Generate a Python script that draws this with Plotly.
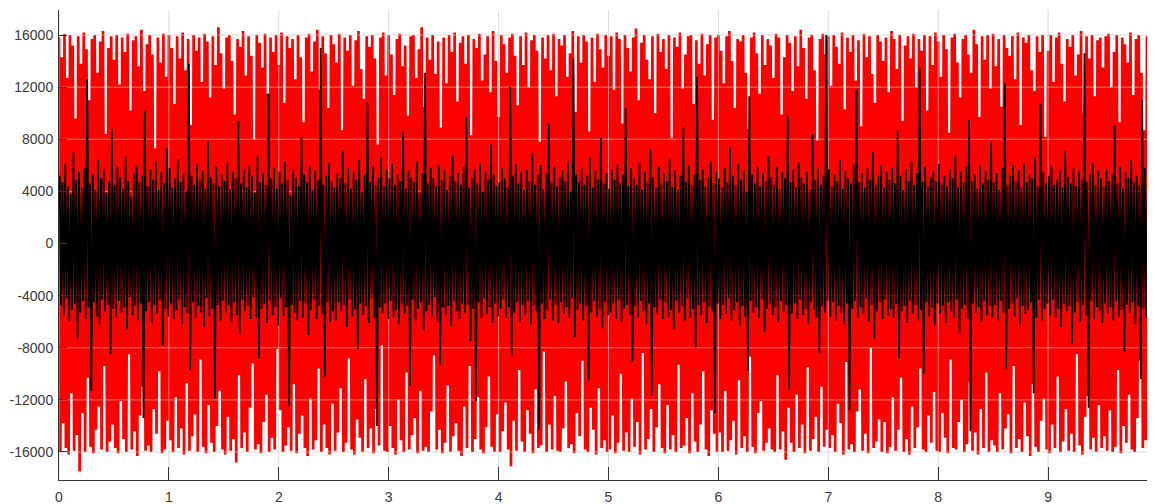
import plotly.graph_objects as go

# Sample rate of the recording (samples per x unit); values in hundreds of units
fs = 80
scale = 100

# Red channel: positive and negative excursions (x100)
red_pos = [
158,143,161,127,160,152,96,159,138,162,149,110,157,160,131,155,163,84,150,159,
141,160,122,158,147,161,102,156,159,136,164,117,153,160,145,73,158,139,161,128,
160,150,107,159,142,162,133,157,91,160,148,158,124,161,155,112,159,137,166,146,
119,158,160,140,99,157,151,163,129,159,144,80,160,154,135,161,115,158,147,160,
137,162,108,159,150,157,126,160,143,93,158,161,132,155,164,118,159,146,104,160,
153,139,161,87,158,148,160,121,156,163,134,111,159,151,160,142,76,158,162,129,
160,145,114,157,161,136,152,98,159,160,127,149,166,105,158,141,160,130,155,89,
158,123,160,147,162,109,154,159,138,160,83,157,150,161,125,145,159,116,163,140,
97,160,153,131,158,161,144,106,159,137,162,120,156,160,148,78,158,142,160,133,
161,113,157,152,160,128,146,163,101,159,139,160,155,86,158,124,161,149,135,160,
144,159,118,162,157,92,160,150,132,158,165,110,154,160,141,126,159,100,161,147,
157,134,160,81,158,151,162,119,145,159,160,107,156,138,161,129,153,160,95,158,
160,148,123,159,163,140,104,157,155,160,131,88,158,162,146,115,160,137,157,152,
127,161,158,99,143,160,154,117,159,136,164,150,111,158,160,133,79,157,161,145,
159,121,160,151,138,162,103,158,147,160,125,156,90,161,143,159,130,108,160,155,
140,158,116,163,157,134,160,94,152,159,142,161,120,157,148,160,102,159,137,162,
155,128,160,149,85,158,161,139,112,157,160,145,131,164,153,97,159,141,160,119,
161,136,157,105,160,150,144,159,126,162,91,158,154,160,133,117,159,147,160,82,
148,160,124,158,162,138,109,157,151,160,129,145,163,100,159,142,160,113,156,158,
135,159,161,120,147,160,93,158,153,139,162,114,157,160,131,87,159,150,161,144,
]
red_neg = [
160,138,157,162,115,159,147,175,130,160,103,156,161,143,125,158,94,160,152,139,
157,161,121,150,160,85,158,144,163,132,110,159,155,160,127,146,98,161,158,136,
151,160,118,157,142,162,107,159,148,131,160,89,156,161,124,153,160,140,113,158,
162,133,159,150,168,101,157,145,160,126,92,158,154,161,137,116,160,149,158,81,
128,160,155,141,159,108,161,146,132,157,163,119,158,151,96,160,139,157,162,123,
159,145,111,160,153,88,158,162,135,149,160,104,157,142,161,127,155,78,159,160,
140,157,162,120,151,160,99,158,147,134,161,113,159,156,160,129,86,158,143,161,
153,109,160,148,138,159,163,125,157,94,160,150,118,158,161,141,102,156,160,131,
160,144,122,158,171,136,159,97,152,160,128,146,161,112,157,155,83,160,139,158,
117,159,160,142,106,157,154,161,130,148,90,158,160,126,143,162,111,157,151,160,
158,132,161,153,100,159,145,160,119,156,137,162,84,158,150,127,160,141,108,157,
161,124,158,147,160,93,157,155,134,161,115,152,160,139,98,158,163,128,146,160,
145,160,113,159,151,136,162,105,157,148,160,87,156,161,130,121,159,153,142,158,
160,101,158,144,166,126,153,160,116,157,139,161,95,159,150,133,160,110,156,143,
157,147,160,123,138,162,91,158,154,160,129,112,159,146,161,80,157,152,135,160,
137,161,156,118,159,143,103,160,150,162,125,157,141,96,158,160,132,153,114,159,
160,130,149,161,89,157,158,137,120,160,154,106,159,145,162,127,157,99,160,151,
155,160,115,158,142,131,161,94,157,150,160,122,148,163,108,156,160,136,119,158,
161,139,157,102,160,152,127,159,146,160,85,155,162,133,117,158,149,160,124,157,
148,159,128,160,156,97,161,140,153,116,158,160,134,90,157,151,161,121,143,160,
]

# Black channel: positive and negative excursions (x100)
black_pos = [
52,47,61,44,38,70,49,55,43,58,126,46,53,41,64,50,57,39,48,88,
45,59,51,42,67,48,36,54,60,47,52,102,44,57,49,63,41,55,46,73,
58,43,50,65,47,54,40,138,52,45,61,49,56,42,78,51,46,59,44,53,
48,62,41,55,50,94,46,57,43,60,52,39,68,47,54,45,115,50,58,42,
55,46,63,49,37,57,51,44,82,53,47,60,41,56,49,150,45,52,62,48,
43,54,50,71,46,58,42,55,49,64,40,53,108,47,59,45,51,66,44,57,
50,61,45,53,48,86,42,56,51,47,63,39,54,131,46,58,50,44,60,49,
56,41,52,67,48,54,45,59,97,43,51,57,46,62,40,55,49,76,53,44,
47,58,50,43,120,52,61,46,55,41,57,48,69,45,53,60,42,54,92,47,
59,44,51,56,48,63,40,142,53,47,58,45,52,66,43,56,49,81,46,54,
42,57,49,61,46,53,104,44,58,50,45,62,41,55,48,72,51,43,59,46,
54,48,65,43,56,41,52,89,47,60,45,53,128,49,57,44,51,63,46,55,
50,43,58,47,74,52,45,61,49,56,40,113,53,46,59,44,54,48,67,51,
45,59,42,55,50,98,47,57,43,62,51,46,55,41,84,49,58,45,52,160,
57,44,53,48,64,42,56,50,46,61,118,47,54,43,58,49,70,45,52,60,
43,55,49,58,46,87,52,41,57,48,63,45,54,135,47,59,44,51,56,48,
61,46,52,44,57,50,68,43,55,47,59,95,48,53,42,60,46,56,49,78,
47,54,41,58,123,45,52,60,48,56,43,61,47,53,50,66,44,107,55,46,
52,60,45,49,57,43,71,51,46,58,44,55,49,146,47,53,62,45,56,50,
44,57,48,53,91,46,59,42,55,50,64,47,52,45,110,58,43,54,49,61,
]
black_neg = [
48,55,42,60,51,46,73,53,44,58,49,113,45,56,62,43,52,47,85,50,
57,44,53,49,66,41,55,48,59,46,134,52,45,61,47,54,43,78,50,56,
46,58,51,43,62,49,54,97,45,57,48,53,64,42,56,50,119,47,59,44,
53,47,60,45,55,69,43,52,48,58,41,57,88,50,46,61,44,55,49,63,
42,56,49,125,47,53,59,44,57,46,70,51,43,58,48,54,102,45,60,52,
59,45,52,47,64,43,56,50,81,46,55,48,61,42,57,140,49,53,46,58,
44,57,51,62,46,54,48,109,43,59,50,45,67,52,47,56,41,60,93,49,
55,48,63,44,52,58,46,53,47,75,50,121,45,57,42,54,49,61,46,56,
50,43,57,49,86,53,45,60,47,55,44,62,48,52,143,46,58,51,43,59,
47,61,45,54,49,57,42,72,51,46,59,48,105,53,44,56,50,65,45,55,
53,46,58,43,60,50,47,55,91,48,57,44,52,62,46,117,49,54,43,58,
45,56,51,66,44,53,48,59,42,57,50,80,47,55,45,61,49,52,130,46,
58,47,54,42,59,51,45,63,48,56,98,44,53,49,57,43,68,50,46,55,
49,60,44,52,47,112,54,46,58,43,55,50,62,45,51,57,84,48,53,44,
56,45,59,48,53,62,46,128,50,44,57,49,54,42,60,47,73,52,45,58,
43,55,50,57,46,88,52,48,61,44,54,47,59,51,100,45,56,49,63,46,
54,48,61,45,52,57,43,69,50,47,58,144,46,53,49,60,44,55,48,57,
47,59,44,53,96,50,46,56,42,62,48,54,51,45,115,57,43,59,50,46,
55,43,57,50,64,46,52,48,77,53,45,60,47,55,126,44,58,49,52,61,
46,54,49,59,44,56,51,83,47,53,45,62,48,104,50,57,43,55,46,58,
]

x_ticks = [0, 1, 2, 3, 4, 5, 6, 7, 8, 9, 10]
y_ticks = [-16000, -12000, -8000, -4000, 0, 4000, 8000, 12000, 16000]
x_range = [0, 9.973]
y_range = [-18150, 17920]


def interleave(pos, neg):
    n = min(len(pos), len(neg))
    out = []
    for i in range(n):
        out.append(pos[i] * scale)
        out.append(-neg[i] * scale)
    return out


red_y = interleave(red_pos, red_neg)
black_y = interleave(black_pos, black_neg)
red_x = [i / fs for i in range(len(red_y))]
black_x = [(i + 0.5) / fs for i in range(len(black_y))]

# grid drawn between the two channels
gx, gy = [], []
for v in y_ticks:
    gx += [x_ticks[0], x_ticks[-1], None]
    gy += [v, v, None]
for v in x_ticks:
    gx += [v, v, None]
    gy += [y_range[0], y_range[1], None]

fig = go.Figure()
fig.add_trace(go.Scatter(x=red_x, y=red_y, mode="lines",
                         line=dict(color="#ff0000", width=2.7),
                         hoverinfo="skip", showlegend=False))
fig.add_trace(go.Scatter(x=gx, y=gy, mode="lines",
                         line=dict(color="rgba(200,200,200,0.65)", width=1),
                         hoverinfo="skip", showlegend=False))
fig.add_trace(go.Scatter(x=black_x, y=black_y, mode="lines",
                         line=dict(color="#000000", width=1.8),
                         hoverinfo="skip", showlegend=False))

tick_font = dict(family="Liberation Sans, Arial, sans-serif", size=14, color="#3a3a3a")

# the page body adds an 8px offset, so the figure is sized to end at the window edge
fig.update_layout(
    width=1147, height=496,
    margin=dict(l=51, r=0, t=2, b=24, pad=0),
    paper_bgcolor="white", plot_bgcolor="white",
    showlegend=False,
    xaxis=dict(range=x_range, tickvals=x_ticks[:-1], ticktext=[str(v) for v in x_ticks[:-1]],
               showgrid=False, zeroline=False, showline=True, linecolor="#333333", linewidth=1,
               ticks="inside", ticklen=13, tickcolor="#333333", tickwidth=1,
               tickfont=tick_font, layer="above traces", automargin=False,
               ticklabelstandoff=4),
    yaxis=dict(range=y_range, tickvals=y_ticks, ticktext=[str(v) for v in y_ticks],
               showgrid=False, zeroline=False, showline=True, linecolor="#333333", linewidth=1,
               ticks="inside", ticklen=8, tickcolor="#333333", tickwidth=1,
               tickfont=tick_font, layer="above traces", automargin=False,
               ticklabelstandoff=2),
)

# last x tick label, cut by the right edge of the window as in the source
fig.add_annotation(x=1, y=0, xref="paper", yref="paper", xanchor="left", yanchor="top",
                   xshift=-5, yshift=-4, text=str(x_ticks[-1]), showarrow=False,
                   font=tick_font)

fig.write_html("out.html")
